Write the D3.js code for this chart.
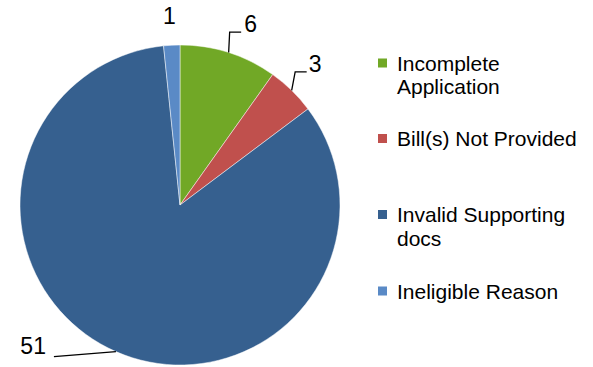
<!DOCTYPE html>
<html>
<head>
<meta charset="utf-8">
<script src="https://cdn.jsdelivr.net/npm/d3@7"></script>
<style>
  body { margin: 0; background: #fff; }
  text { font-family: "Liberation Sans", Arial, sans-serif; fill: #000; }
</style>
</head>
<body>
<div id="chart"></div>
<script>
const categories = ["Incomplete Application", "Bill(s) Not Provided", "Invalid Supporting docs", "Ineligible Reason"];
const legendLines = [["Incomplete", "Application"], ["Bill(s) Not Provided"], ["Invalid Supporting", "docs"], ["Ineligible Reason"]];
const values = [6, 3, 51, 1];
const colors = ["#71A826", "#C0504D", "#36608F", "#5A8AC6"];

const width = 593, height = 367;
const cx = 180, cy = 205, radius = 160;

const svg = d3.select("#chart")
    .append("svg")
    .attr("width", width)
    .attr("height", height);

const data = categories.map((c, i) => ({ name: c, value: values[i], color: colors[i], lines: legendLines[i] }));

const pie = d3.pie().sort(null).value(d => d.value);
const arcs = pie(data);
const arc = d3.arc().innerRadius(0).outerRadius(radius);

const g = svg.append("g").attr("transform", "translate(" + cx + "," + cy + ")");

g.selectAll("path.slice")
    .data(arcs)
    .enter()
    .append("path")
    .attr("class", "slice")
    .attr("d", arc)
    .attr("fill", d => d.data.color)
    .attr("stroke", "#fff")
    .attr("stroke-width", 0.8)
    .attr("stroke-opacity", 0.6);

// point on the rim at the middle of a slice
function rim(d, r) {
    const a = (d.startAngle + d.endAngle) / 2;
    return [Math.sin(a) * r, -Math.cos(a) * r];
}

// leader lines: elbow up/out then short horizontal, or straight
const leaders = [
    { elbow: [1, -20.5], end: [11.5, 0], label: [3, -8], anchor: "start" },  // 6
    { elbow: [3.5, -18.5], end: [11.5, 0], label: [2, -8], anchor: "start" },// 3
    { elbow: null, end: [-62, 5], label: [-8, -10.5], anchor: "end" },       // 51
    { elbow: null, end: null, label: [-2.5, -29], anchor: "middle" }         // 1
];

arcs.forEach((d, i) => {
    const L = leaders[i];
    const p0 = rim(d, radius);
    let pts = [p0];
    let last = p0;
    if (L.elbow) {
        last = [last[0] + L.elbow[0], last[1] + L.elbow[1]];
        pts.push(last);
    }
    if (L.end) {
        last = [last[0] + L.end[0], last[1] + L.end[1]];
        pts.push(last);
    }
    if (pts.length > 1) {
        g.append("path")
            .attr("d", d3.line()(pts))
            .attr("fill", "none")
            .attr("stroke", "#000")
            .attr("stroke-width", 1.3);
    }
    g.append("text")
        .attr("x", last[0] + L.label[0])
        .attr("y", last[1] + L.label[1])
        .attr("dy", "0.35em")
        .attr("text-anchor", L.anchor)
        .attr("font-size", 23)
        .text(d.data.value);
});

// legend
const legendY = [63, 138.5, 214.5, 291];
const legend = svg.append("g").attr("class", "legend");
data.forEach((d, i) => {
    const row = legend.append("g").attr("transform", "translate(378," + legendY[i] + ")");
    row.append("rect")
        .attr("x", 0)
        .attr("y", -4.5)
        .attr("width", 9)
        .attr("height", 9)
        .attr("fill", d.color);
    row.append("text")
        .attr("x", 19)
        .attr("y", 7.5)
        .attr("font-size", 21)
        .selectAll("tspan")
        .data(d.lines)
        .enter()
        .append("tspan")
        .attr("x", 19)
        .attr("dy", (t, j) => j === 0 ? 0 : 23.5)
        .text(t => t);
});
</script>
</body>
</html>
